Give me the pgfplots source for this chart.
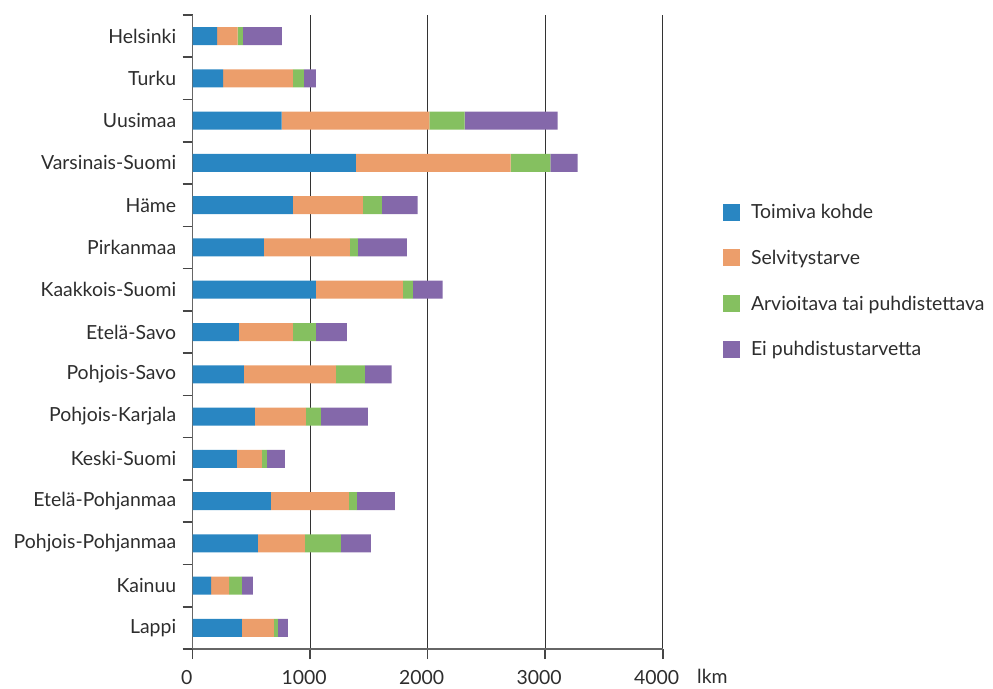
\documentclass[border=0pt]{standalone}
\usepackage{fontspec}
\setmainfont{Lato}
\usepackage{pgfplots}
\pgfplotsset{compat=1.18}
\usepackage{pgfplotstable}

\definecolor{cBlue}{RGB}{41,134,194}
\definecolor{cOrange}{RGB}{236,158,107}
\definecolor{cGreen}{RGB}{133,192,96}
\definecolor{cPurple}{RGB}{132,104,170}
\definecolor{cText}{RGB}{45,45,45}
\definecolor{cTick}{RGB}{70,70,70}

% kohteet maakunnittain, lkm
\pgfplotstableread{
idx blue orange green purple
0   207  175  46  331
1   258  595  93  102
2   756  1258 300 791
3   1388 1317 340 230
4   853  595  161 306
5   606  731  68  417
6   1048 740  85  254
7   394  459  195 264
8   436  782  247 229
9   530  433  128 399
10  377  212  43  153
11  666  663  68  323
12  555  400  306 255
13  156  153  110 94
14  419  272  34  85
}\datatable

\begin{document}
\begin{tikzpicture}
\begin{axis}[
  scale only axis, width=470bp, height=634bp,
  xbar stacked, bar width=18bp,
  legend image code/.code={\fill[#1,draw=none] (0bp,-8.5bp) rectangle (17bp,8.5bp);},
  y dir=reverse, ymin=-0.5, ymax=14.5,
  xmin=0, xmax=4000,
  axis x line*=bottom, axis y line*=left,
  axis line style={black!60, line width=1.5bp},
  xtick={0,1000,2000,3000,4000},
  xmajorgrids, major grid style={black!80, line width=0.9bp},
  % ticks between the regions; each name sits half a band below its tick
  ytick={-0.5,0.5,...,14.5},
  yticklabels={Helsinki,Turku,Uusimaa,Varsinais-Suomi,Häme,Pirkanmaa,Kaakkois-Suomi,Etelä-Savo,Pohjois-Savo,Pohjois-Karjala,Keski-Suomi,Etelä-Pohjanmaa,Pohjois-Pohjanmaa,Kainuu,Lappi,{}},
  yticklabel style={yshift=-21.133bp, xshift=-3bp},
  tick align=outside, major tick length=10bp,
  major tick style={draw=cTick, line width=1.6bp},
  ticklabel style={font=\fontsize{19.5}{22}\selectfont, text=cText},
  xticklabel style={xshift=-6bp, yshift=-8bp},
  /pgf/number format/assume math mode=true,
  /pgf/number format/1000 sep={},
  xlabel={lkm}, xlabel style={at={(axis description cs:1,0)}, anchor=west, xshift=31bp, yshift=-27bp, font=\fontsize{19.5}{22}\selectfont, text=cText},
  legend style={at={(rel axis cs:1.128,0.705)}, anchor=north west, draw=none, fill=none,
    row sep=26bp, column sep=9bp, font=\fontsize{19.5}{22}\selectfont, text=cText, inner sep=0pt},
  legend cell align=left,
]
\addplot[fill=cBlue, draw=none] table[x=blue, y=idx] {\datatable};
\addplot[fill=cOrange, draw=none] table[x=orange, y=idx] {\datatable};
\addplot[fill=cGreen, draw=none] table[x=green, y=idx] {\datatable};
\addplot[fill=cPurple, draw=none] table[x=purple, y=idx] {\datatable};
\legend{Toimiva kohde, Selvitystarve, Arvioitava tai puhdistettava, Ei puhdistustarvetta}
\coordinate (bbsw) at (rel axis cs:0,0);
\end{axis}
\path (bbsw) ++(-192.7bp,-37bp) rectangle ++(993bp,686bp);
\end{tikzpicture}
\end{document}
